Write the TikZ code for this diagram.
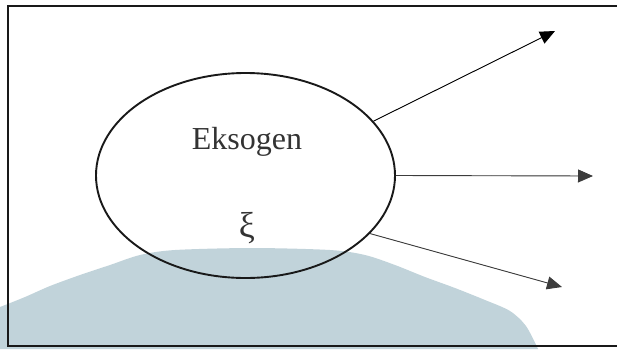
\documentclass[tikz,border=0pt]{standalone}
\usepackage{fontspec}
\setmainfont{Liberation Serif}
\usetikzlibrary{shapes.geometric,arrows.meta}
\definecolor{domeblue}{RGB}{193,211,218}
\definecolor{linegrey}{RGB}{60,60,60}
\tikzset{
  conn/.style={draw=linegrey, line width=0.9pt, -{Triangle[length=15pt,width=13pt]}},
  latent/.style={ellipse, draw=black!90, line width=1.9pt, minimum width=299pt, minimum height=205pt, inner sep=0pt},
  frame/.style={draw=black!90, line width=2pt},
  lbl/.style={inner sep=0pt, anchor=base, text=black!80}
}
\begin{document}
\begin{tikzpicture}[x=1pt,y=-1pt]
\useasboundingbox (0,0) rectangle (617,349);
% background dome
\fill[domeblue] plot[smooth] coordinates {(0,307) (25,297) (50,286) (80,275) (110,265) (140,255) (175,250) (252,248) (330,250) (365,255) (395,265) (425,277) (455,288) (485,300) (510,311) (526,326) (538,349)} -- (0,349) -- cycle;
% frame
\draw[frame] (617,5.5) -- (8,5.5) -- (8,346) -- (617,346);
% latent variable
\node[latent] (ell) at (245.5,175.5) {};
\node[lbl, font=\fontsize{32}{36}\selectfont] (name) at (247,149) {Eksogen};
\node[lbl, font=\fontsize{36}{40}\selectfont] (xi) at (247,237) {ξ};
% targets
\coordinate (t1) at (555,31);
\coordinate (t2) at (593,176);
\coordinate (t3) at (562,287);
\draw[conn, draw=black, fill=black] (ell.23) -- (t1);
\draw[conn, fill=linegrey] (ell.0) -- (t2);
\draw[conn, fill=linegrey] (ell.-25) -- (t3);
\end{tikzpicture}
\end{document}
